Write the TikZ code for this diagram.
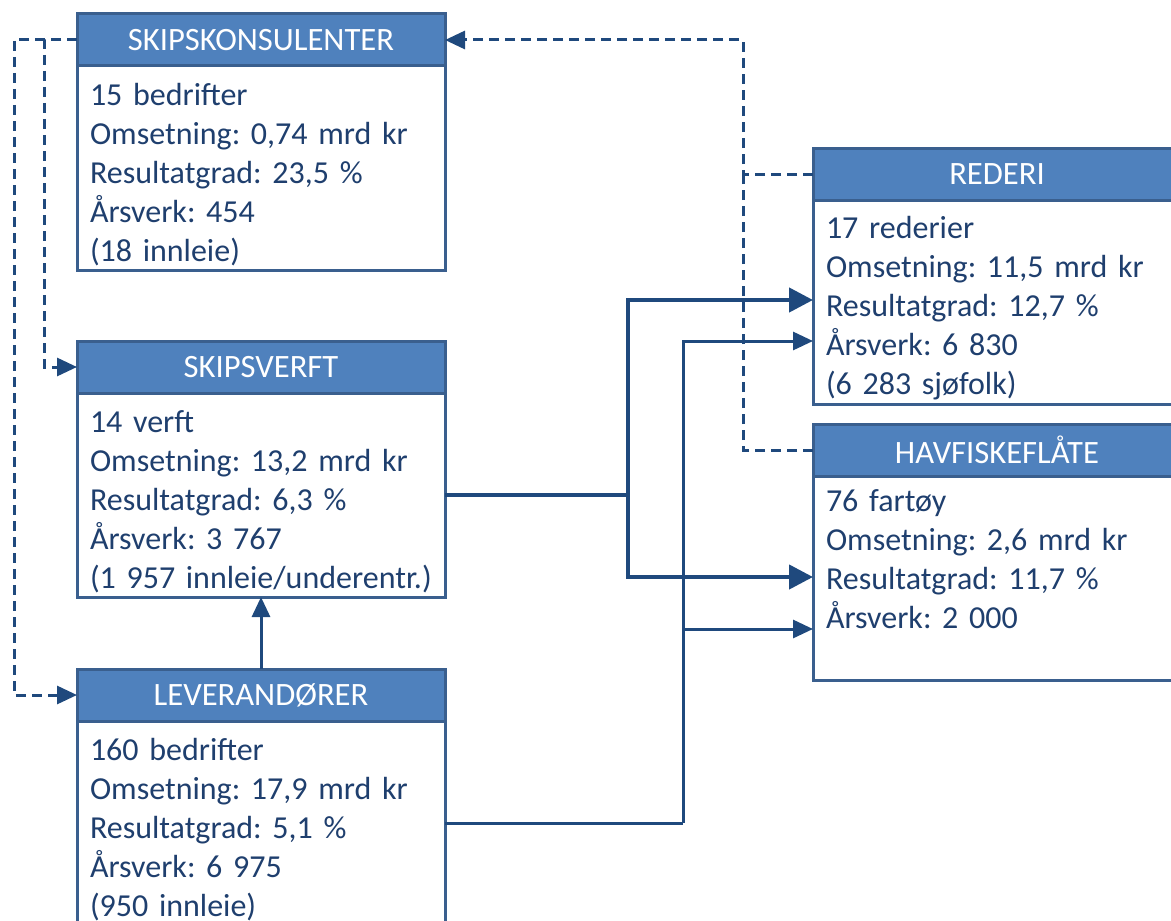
\documentclass[tikz,border=0pt]{standalone}
\usepackage{fontspec}
\setmainfont{Carlito}
\usetikzlibrary{positioning,arrows.meta,calc}
\definecolor{headblue}{HTML}{4F81BD}
\definecolor{edgeblue}{HTML}{3A5F8E}
\definecolor{linkblue}{HTML}{1F497D}
\definecolor{textblue}{HTML}{1F3F6E}
\frenchspacing

\tikzset{
  head/.style={draw=edgeblue, line width=1.5pt, fill=headblue, text=white,
    minimum width=184pt, minimum height=26pt, inner sep=0pt, outer sep=0pt,
    font=\fontsize{16.3}{18}\selectfont},
  body/.style={draw=edgeblue, line width=1.5pt, fill=white, text=textblue,
    text width=171pt, inner xsep=6.5pt, inner ysep=0pt, minimum height=102pt,
    outer sep=0pt, align=left, font=\fontsize{16}{19.5}\selectfont,
    execute at begin node={\rule{0pt}{17.5pt}}},
  dashline/.style={draw=linkblue, line width=1.5pt, dash pattern=on 5pt off 3pt},
  fatline/.style={draw=linkblue, line width=2.2pt},
  thinline/.style={draw=linkblue, line width=1.5pt},
  bigtip/.style={-{Triangle[length=12pt,width=12pt]}},
  smalltip/.style={-{Triangle[length=10pt,width=9pt]}}
}

\begin{document}
\begin{tikzpicture}[x=0.5pt, y=-0.5pt]
\useasboundingbox (0,0) rectangle (1171,920);
\clip (0,0) rectangle (1171,920);

% Boxes, left column
\node[head] (skk) at (261,40) {SKIPSKONSULENTER};
\node[body, below=0pt of skk] (skk-b) {15 bedrifter\\Omsetning: 0,74 mrd kr\\Resultatgrad: 23,5 \%\\Årsverk: 454\\(18 innleie)};

\node[head] (verft) at (261,367) {SKIPSVERFT};
\node[body, below=0pt of verft] (verft-b) {14 verft\\Omsetning: 13,2 mrd kr\\Resultatgrad: 6,3 \%\\Årsverk: 3 767\\(1 957 innleie/underentr.)};

\node[head] (lev) at (261,695) {LEVERANDØRER};
\node[body, below=0pt of lev] (lev-b) {160 bedrifter\\Omsetning: 17,9 mrd kr\\Resultatgrad: 5,1 \%\\Årsverk: 6 975\\(950 innleie)};

% Boxes, right column
\node[head] (rederi) at (997,174) {REDERI};
\node[body, below=0pt of rederi] (rederi-b) {17 rederier\\Omsetning: 11,5 mrd kr\\Resultatgrad: 12,7 \%\\Årsverk: 6 830\\(6 283 sjøfolk)};

\node[head] (havf) at (997,450) {HAVFISKEFLÅTE};
\node[body, below=0pt of havf] (havf-b) {76 fartøy\\Omsetning: 2,6 mrd kr\\Resultatgrad: 11,7 \%\\Årsverk: 2 000\\\strut};

% Dashed links
\draw[dashline, smalltip] (skk.west) -- ++(-33,0) |- (verft.west);
\draw[dashline, smalltip] (skk.west) -- ++(-63,0) |- (lev.west);
\draw[dashline, smalltip] (rederi.west) -- ++(-70,0) coordinate (dsplit) |- (skk.east);
\draw[dashline] (havf.west) -| (dsplit);

% Solid links
\draw[fatline] (verft-b.east) -- ++(183,0) coordinate (vsplit);
\draw[fatline, bigtip] (vsplit) |- ($(rederi-b.west)+(0,-2)$);
\draw[fatline, bigtip] (vsplit) |- ($(havf-b.west)+(0,-1)$);

\draw[thinline] (lev-b.east) -- ++(238,0) coordinate (lsplit);
\draw[thinline, smalltip] (lsplit) |- ($(rederi-b.west)+(0,39)$);
\draw[thinline, smalltip] (lsplit) |- ($(havf-b.west)+(0,51)$);

\draw[thinline, smalltip] (lev.north) -- (verft-b.south);
\end{tikzpicture}
\end{document}
